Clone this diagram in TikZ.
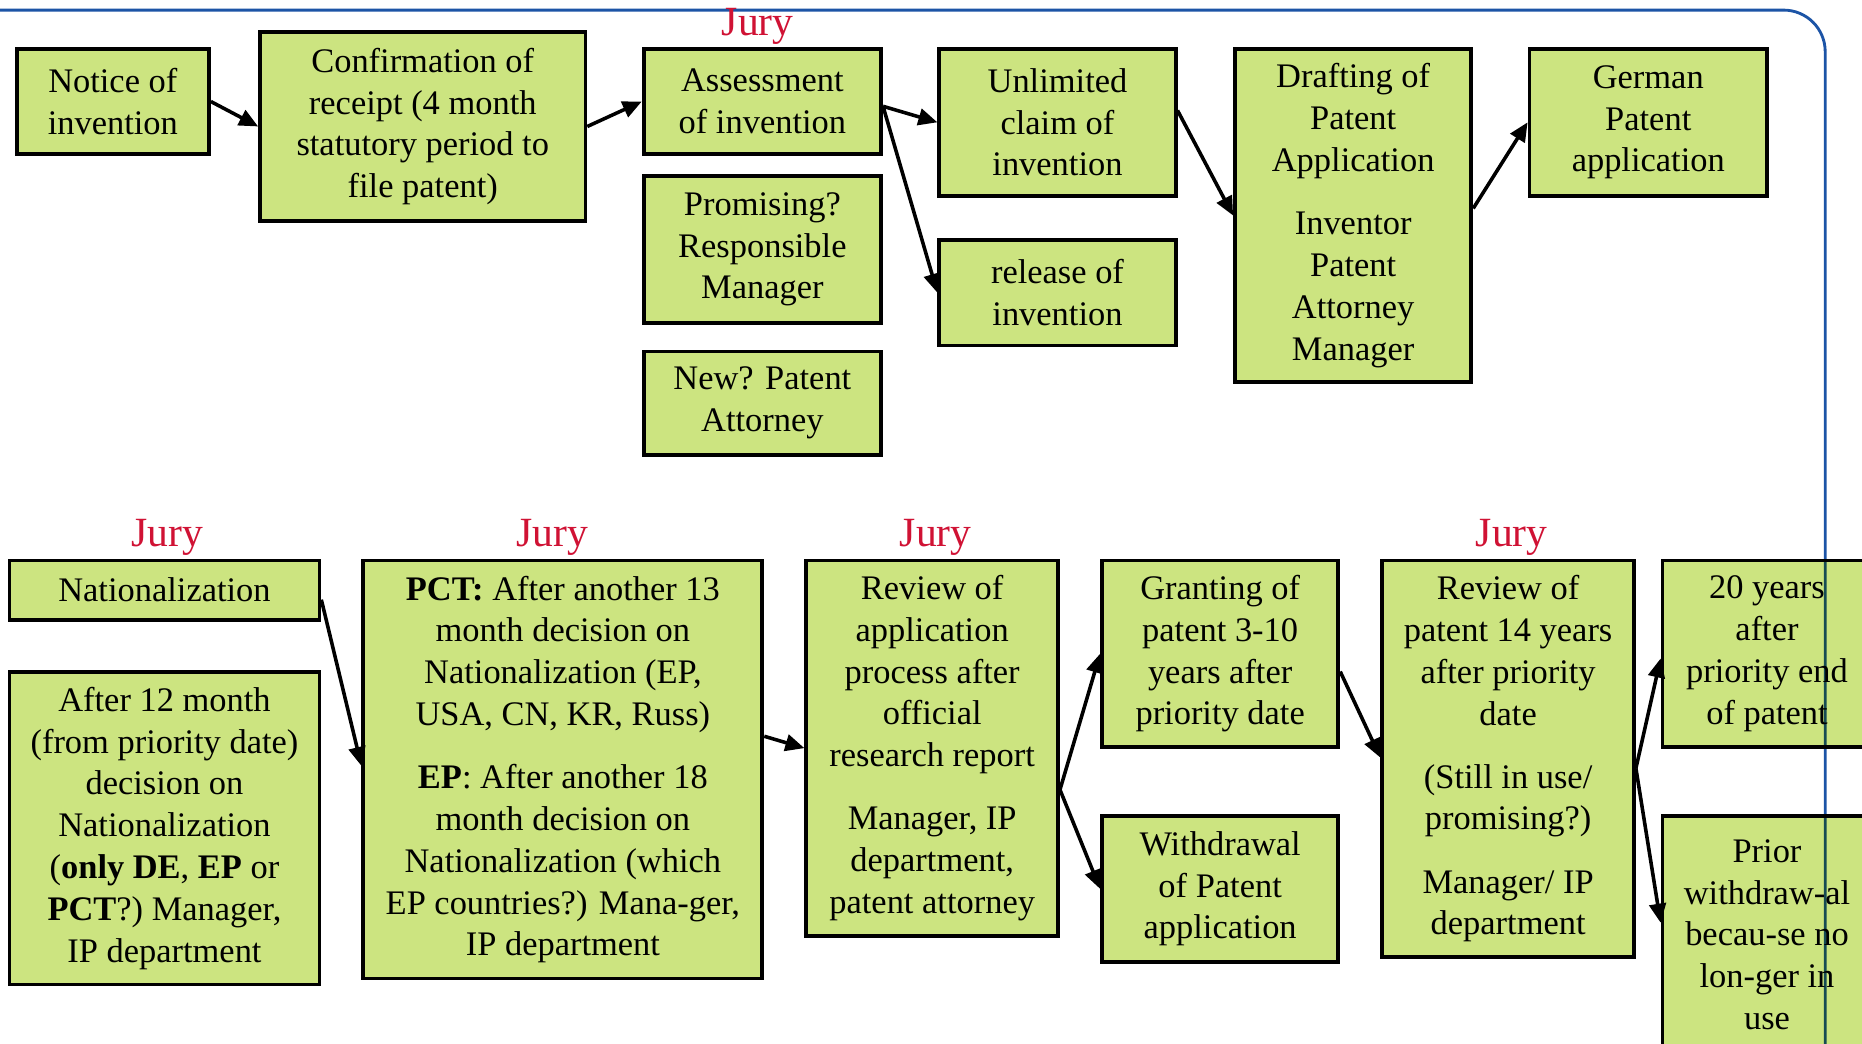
\documentclass[tikz,border=0pt]{standalone}
\usepackage{fontspec}
\setmainfont{Liberation Serif}
\usetikzlibrary{arrows.meta,calc}
\definecolor{boxgreen}{RGB}{204,228,128}
\definecolor{juryred}{RGB}{208,18,52}
\definecolor{frameblue}{RGB}{28,84,166}
\tikzset{
 box/.style={draw=black, line width=1.6pt, fill=boxgreen, inner sep=0pt, align=center,
   font=\fontsize{14.5}{17.6}\selectfont},
 conn/.style={line width=1.5pt, -{Triangle[length=8pt,width=7pt]}},
 jury/.style={text=juryred, font=\fontsize{17.5}{20}\selectfont, anchor=base, inner sep=0pt},
 frame/.style={draw=frameblue, line width=1.2pt, rounded corners=17.5pt},
}
\begin{document}
\begin{tikzpicture}[x=0.5pt,y=-0.5pt]
\useasboundingbox (0,0) rectangle (1568,879);
\clip (0,0) rectangle (1568,879);
\fill[white] (0,0) rectangle (1568,879);

% top row
\node[box, minimum width=81pt, minimum height=44.5pt] (notice) at (95,85.5) {Notice of\\invention};
\node[box, minimum width=137pt, minimum height=79.5pt] (conf) at (356,106.5) {Confirmation of\\receipt (4 month\\statutory period to\\file patent)};
\node[box, minimum width=100pt, minimum height=44.5pt] (assess) at (642,85.5) {Assessment\\of invention};
\node[box, minimum width=100pt, minimum height=62pt] (prom) at (642,210) {Promising?\\Responsible\\Manager};
\node[box, minimum width=100pt, minimum height=43.5pt] (new) at (642,339.5) {New? Patent\\Attorney};
\node[box, minimum width=99.5pt, minimum height=62pt] (unl) at (890.5,103) {Unlimited\\claim of\\invention};
\node[box, minimum width=99.5pt, minimum height=44.5pt] (rel) at (890.5,246.5) {release of\\invention};
\node[box, minimum width=99.5pt, minimum height=140.5pt] (draft) at (1139.5,181.5) {Drafting of\\Patent\\Application\\[9pt]Inventor\\Patent\\Attorney\\Manager};
\node[box, minimum width=100pt, minimum height=62pt] (german) at (1388,103) {German\\Patent\\application};

% bottom row
\node[box, minimum width=130.5pt, minimum height=25pt] (nat) at (138.5,497) {Nationalization};
\node[box, minimum width=130.5pt, minimum height=131.5pt] (after) at (138.5,697.5) {After 12 month\\(from priority date)\\decision on\\Nationalization\\(\textbf{only DE}, \textbf{EP} or\\\textbf{PCT}?) Manager,\\IP department};
\node[box, minimum width=168pt, minimum height=176pt] (pct) at (474,648) {\textbf{PCT:} After another 13\\month decision on\\Nationalization (EP,\\USA, CN, KR, Russ)\\[9pt]\textbf{EP}: After another 18\\month decision on\\Nationalization (which\\EP countries?) Mana-ger,\\IP department};
\node[box, minimum width=106pt, minimum height=158pt] (rev) at (785,630) {Review of\\application\\process after\\official\\research report\\[9pt]Manager, IP\\department,\\patent attorney};
\node[box, minimum width=99.5pt, minimum height=78.5pt] (grant) at (1027.5,550.5) {Granting of\\patent 3-10\\years after\\priority date};
\node[box, minimum width=99.5pt, minimum height=61.5pt] (withd) at (1027.5,748.5) {Withdrawal\\of Patent\\application};
\node[box, minimum width=106pt, minimum height=167pt] (revb) at (1270,639) {Review of\\patent 14 years\\after priority\\date\\[9pt](Still in use/\\promising?)\\[9pt]Manager/ IP\\department};
\node[box, minimum width=88pt, minimum height=78.5pt] (twenty) at (1488,550.5) {20 years\\after\\priority end\\of patent};
\node[box, minimum width=88pt, minimum height=100pt] (prior) at (1488,787) {Prior\\withdraw-al\\becau-se no\\lon-ger in\\use};

% connectors
\draw[conn] (notice.east) -- (conf.west);
\draw[conn] (conf.east) -- (assess.west);
\draw[conn] ($(assess.east)+(0,4)$) -- (unl.west);
\draw[conn] ($(assess.east)+(0,4)$) -- (rel.west);
\draw[conn] ($(unl.east)+(0,-10)$) -- (draft.west);
\draw[conn] ($(draft.east)+(0,-6)$) -- (german.west);

\draw[conn] ($(nat.east)+(0,8)$) -- ($(pct.west)+(0,-3)$);
\draw[conn] ($(pct.east)+(0,-28)$) -- (rev.west);
\draw[conn] ($(rev.east)+(0,35)$) -- (grant.west);
\draw[conn] ($(rev.east)+(0,35)$) -- (withd.west);
\draw[conn] ($(grant.east)+(0,15)$) -- ($(revb.west)+(0,-1)$);
\draw[conn] ($(revb.east)+(0,8)$) -- ($(twenty.west)+(0,4)$);
\draw[conn] ($(revb.east)+(0,8)$) -- ($(prior.west)+(0,-10)$);

% frame
\begin{scope}[blend mode=multiply]
\draw[frame] (0,8.5) -- (1537,8.5) -- (1537,900);
\end{scope}

% jury labels
\node[jury] (jury0) at (638,29.5) {Jury};
\node[jury] (jury1) at (141,460) {Jury};
\node[jury] (jury2) at (465,460) {Jury};
\node[jury] (jury3) at (788,460) {Jury};
\node[jury] (jury4) at (1273,460) {Jury};
\end{tikzpicture}
\end{document}
